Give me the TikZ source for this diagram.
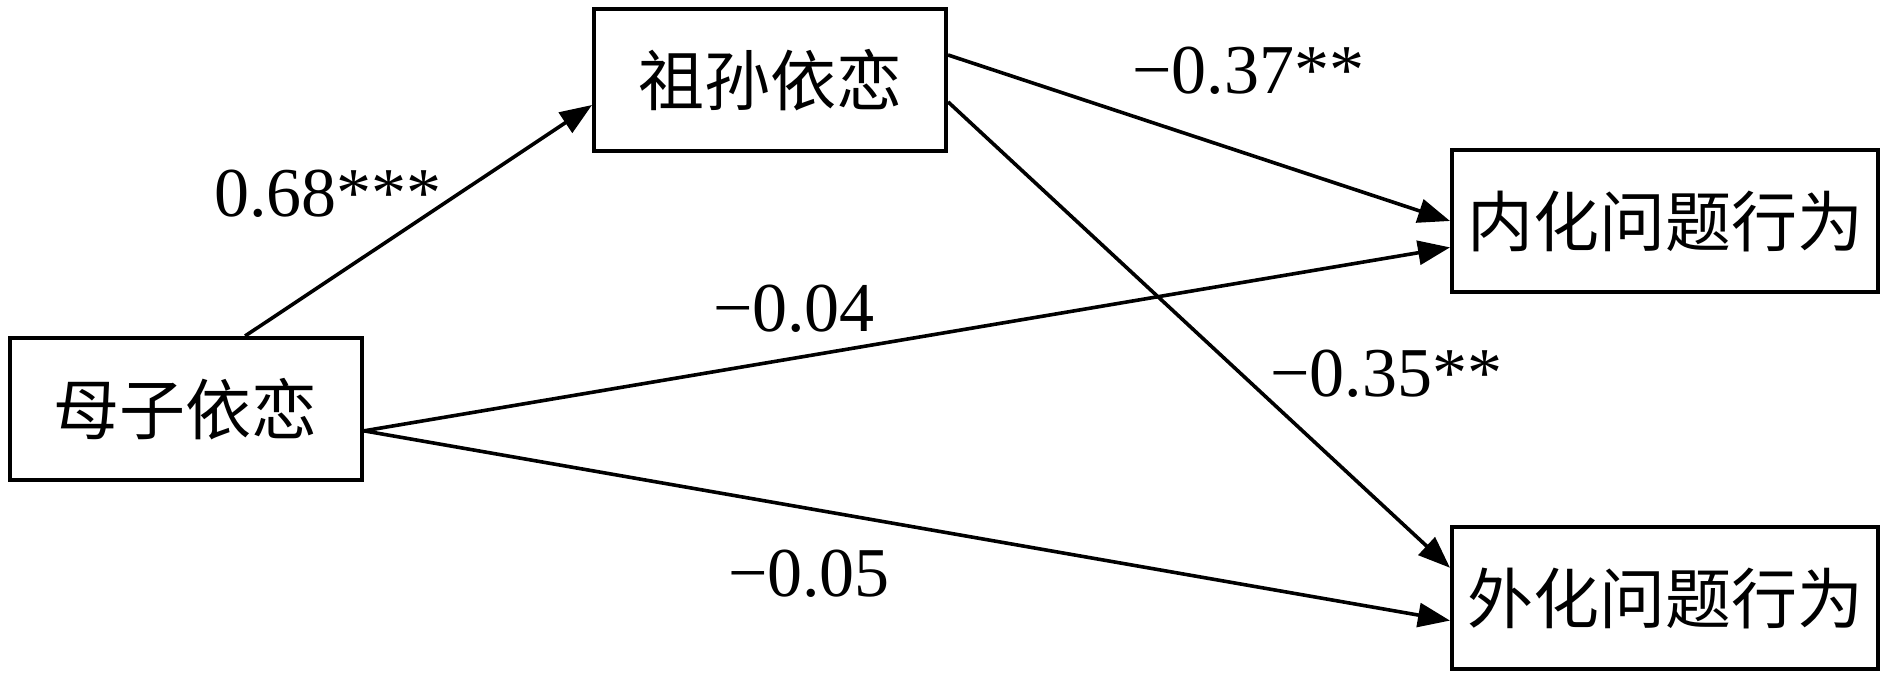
\documentclass[tikz,border=0pt]{standalone}
\usepackage{fontspec}
\newfontfamily\numfont{LiberationSerif}[Extension=.ttf, UprightFont=*-Regular]
\newfontfamily\cjk{Noto Sans CJK SC}
\usetikzlibrary{arrows.meta}

\begin{document}
\begin{tikzpicture}[x=0.5pt, y=0.5pt,
  var/.style={rectangle, draw=black, line width=2pt, minimum height=71pt, font=\fontsize{33}{40}\selectfont\cjk, inner sep=0pt},
  coef/.style={font=\fontsize{35}{40}\selectfont\numfont, inner sep=0pt},
  link/.style={draw, line width=1.8pt, -{Triangle[length=16pt, width=12pt]}},
]
\useasboundingbox (0,0) rectangle (1890,684);

\node[var, minimum width=176pt] (muzi) at (186,275) {母子依恋};
\node[var, minimum width=176pt] (zusun) at (770,604) {祖孙依恋};
\node[var, minimum width=213pt] (neihua) at (1665,463) {内化问题行为};
\node[var, minimum width=213pt] (waihua) at (1665,86) {外化问题行为};

\draw[link] (muzi.51) -- (zusun.188);
\draw[link] (zusun.8) -- (neihua.180);
\draw[link] (zusun.-7) -- (waihua.172);
\draw[link] (muzi.-7) -- (neihua.187);
\draw[link] (muzi.-7) -- (waihua.186);

\node[coef] (c1) at (328,490) {0.68***};
\node[coef] (c2) at (1248,613) {−0.37**};
\node[coef] (c3) at (794,375) {−0.04};
\node[coef] (c4) at (1386,310) {−0.35**};
\node[coef] (c5) at (809,110) {−0.05};
\end{tikzpicture}
\end{document}
